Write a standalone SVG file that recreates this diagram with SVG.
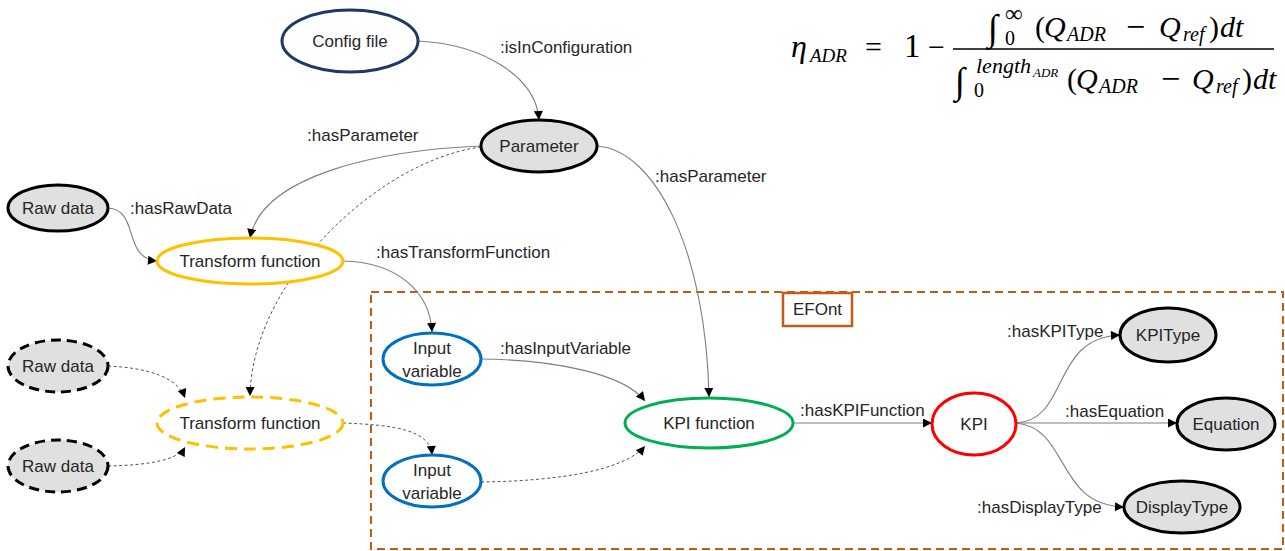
<svg xmlns="http://www.w3.org/2000/svg" width="1285" height="551" viewBox="0 0 1285 551">
<style>
text{font-family:"Liberation Sans",Arial,sans-serif;font-size:17px;fill:#262626}
.c{text-anchor:middle;dominant-baseline:central}
.l{dominant-baseline:central}
.n{stroke-width:3}
.gray{fill:#e0e0e0;stroke:#000}
.conn{fill:none;stroke:#7f7f7f;stroke-width:1.1;marker-end:url(#ah)}
.dot{fill:none;stroke:#555;stroke-width:1;stroke-dasharray:3 2.5;marker-end:url(#ah)}
text.m{font-family:"Liberation Serif","DejaVu Serif",serif;fill:#000;font-size:30px}
.i{font-style:italic}
tspan.s{font-size:20px;font-style:italic}
tspan.mi{font-size:34px}
</style>
<defs>
<marker id="ah" viewBox="0 0 10 10" refX="10" refY="5" markerWidth="10" markerHeight="9" orient="auto" markerUnits="userSpaceOnUse">
<path d="M0,0 L10,5 L0,10 z" fill="#000"/>
</marker>
</defs>
<rect width="1285" height="551" fill="#fff"/>

<g id="efont-box">
<rect x="371" y="292" width="912" height="257" fill="none" stroke="#c55a11" stroke-width="2" stroke-dasharray="8 5"/>
<rect x="783" y="293" width="69" height="33" fill="#fff" stroke="#c55a11" stroke-width="2.5"/>
<text class="c" x="817.5" y="309.5">EFOnt</text>
</g>

<g id="connectors">
<path class="conn" d="M418,41 C480,44 536,75 539,120"/>
<path class="conn" d="M481,146 C380,150 262,175 250,238"/>
<path class="dot" d="M481,147 C380,160 252,280 250,396"/>
<path class="conn" d="M597,146 C655,150 706,250 709,397"/>
<path class="conn" d="M108,208 C140,210 122,258 157,261"/>
<path class="conn" d="M343,261 C395,262 430,290 432,332"/>
<path class="conn" d="M481,359 C560,360 625,375 645,401"/>
<path class="dot" d="M481,482 C560,481 625,470 645,446"/>
<path class="dot" d="M343,423 C395,425 430,430 432,455"/>
<path class="dot" d="M108,366 C150,368 178,378 185,398"/>
<path class="dot" d="M108,466 C150,465 178,460 185,447"/>
<path class="conn" d="M793,423 L932,423"/>
<path class="conn" d="M1016,423 C1070,420 1050,338 1120,335"/>
<path class="conn" d="M1016,423 L1177,423"/>
<path class="conn" d="M1016,423 C1070,428 1055,505 1124,507"/>
<text class="l" x="500" y="47">:isInConfiguration</text>
<text class="l" x="307" y="135">:hasParameter</text>
<text class="l" x="655" y="176">:hasParameter</text>
<text class="l" x="130" y="208">:hasRawData</text>
<text class="l" x="376" y="252">:hasTransformFunction</text>
<text class="l" x="500" y="348">:hasInputVariable</text>
<text class="l" x="800" y="410">:hasKPIFunction</text>
<text class="l" x="1007" y="331">:hasKPIType</text>
<text class="l" x="1065" y="411">:hasEquation</text>
<text class="l" x="977" y="507">:hasDisplayType</text>
</g>

<g id="config-file">
<ellipse class="n" cx="350" cy="41" rx="68" ry="31" fill="#fff" stroke="#1f3864"/>
<text class="c" x="350" y="41">Config file</text>
</g>
<g id="parameter">
<ellipse class="n gray" cx="539" cy="146" rx="58" ry="26"/>
<text class="c" x="539" y="146">Parameter</text>
</g>
<g id="raw-data">
<ellipse class="n gray" cx="58" cy="208" rx="50" ry="23"/>
<text class="c" x="58" y="208">Raw data</text>
</g>
<g id="transform-function">
<ellipse class="n" cx="250" cy="261" rx="93" ry="23" fill="#fff" stroke="#ffc000"/>
<text class="c" x="250" y="261">Transform function</text>
</g>
<g id="raw-data-2">
<ellipse class="n gray" cx="58" cy="366" rx="50" ry="26" stroke-dasharray="10 6"/>
<text class="c" x="58" y="366">Raw data</text>
</g>
<g id="raw-data-3">
<ellipse class="n gray" cx="58" cy="466" rx="50" ry="26" stroke-dasharray="10 6"/>
<text class="c" x="58" y="466">Raw data</text>
</g>
<g id="transform-function-2">
<ellipse class="n" cx="250" cy="423" rx="93" ry="26" fill="#fff" stroke="#ffc000" stroke-dasharray="12 7"/>
<text class="c" x="250" y="423">Transform function</text>
</g>
<g id="input-variable-1">
<ellipse class="n" cx="432" cy="359" rx="49" ry="26" fill="#fff" stroke="#0070c0"/>
<text class="c" x="432" y="348">Input</text>
<text class="c" x="432" y="371">variable</text>
</g>
<g id="input-variable-2">
<ellipse class="n" cx="432" cy="481" rx="49" ry="26" fill="#fff" stroke="#0070c0"/>
<text class="c" x="432" y="470">Input</text>
<text class="c" x="432" y="493">variable</text>
</g>
<g id="kpi-function">
<ellipse class="n" cx="709" cy="423" rx="84" ry="25" fill="#fff" stroke="#00b050"/>
<text class="c" x="709" y="423">KPI function</text>
</g>
<g id="kpi">
<ellipse class="n" cx="974" cy="424" rx="42" ry="31" fill="#fff" stroke="#ff0000"/>
<text class="c" x="974" y="424">KPI</text>
</g>
<g id="kpitype">
<ellipse class="n gray" cx="1168" cy="335" rx="48" ry="27"/>
<text class="c" x="1168" y="335">KPIType</text>
</g>
<g id="equation">
<ellipse class="n gray" cx="1226" cy="424" rx="49" ry="26"/>
<text class="c" x="1226" y="424">Equation</text>
</g>
<g id="displaytype">
<ellipse class="n gray" cx="1182" cy="507" rx="58" ry="26"/>
<text class="c" x="1182" y="507">DisplayType</text>
</g>

<g id="formula">
<text class="m i" x="791" y="57" style="font-size:32px">η</text>
<text class="m i" x="810" y="62" style="font-size:19px">ADR</text>
<text class="m" x="865" y="57">=</text>
<text class="m" x="904" y="57" style="font-size:33px">1</text>
<text class="m" x="928" y="57">−</text>
<line x1="953" y1="49" x2="1274" y2="49" stroke="#000" stroke-width="1.6"/>
<text class="m i" x="988" y="40" style="font-size:37px">∫</text>
<text class="m" x="1005" y="22" style="font-size:25px">∞</text>
<text class="m" x="1005" y="45" style="font-size:20px">0</text>
<text class="m"><tspan x="1035" y="37">(</tspan><tspan class="i" x="1044" y="37">Q</tspan><tspan class="s" x="1067" y="41">ADR</tspan><tspan class="mi" x="1126" y="38">−</tspan><tspan class="i" x="1159" y="37">Q</tspan><tspan class="s" x="1183" y="41">ref</tspan><tspan x="1209" y="37">)</tspan><tspan class="i" x="1220" y="37">dt</tspan></text>
<text class="m i" x="955" y="93" style="font-size:37px">∫</text>
<text class="m i" x="976" y="73" style="font-size:22px">length</text>
<text class="m i" x="1033" y="77" style="font-size:13px">ADR</text>
<text class="m" x="974" y="97" style="font-size:20px">0</text>
<text class="m"><tspan x="1067" y="89">(</tspan><tspan class="i" x="1076" y="89">Q</tspan><tspan class="s" x="1099" y="93">ADR</tspan><tspan class="mi" x="1161" y="90">−</tspan><tspan class="i" x="1192" y="89">Q</tspan><tspan class="s" x="1216" y="93">ref</tspan><tspan x="1242" y="89">)</tspan><tspan class="i" x="1253" y="89">dt</tspan></text>
</g>
</svg>
